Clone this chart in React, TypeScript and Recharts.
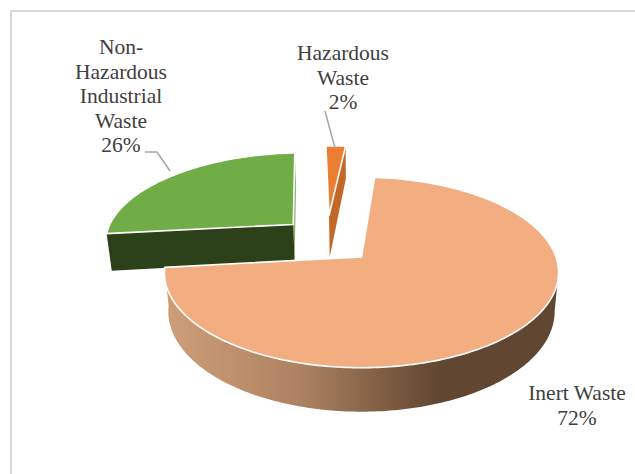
import React from 'react';
import { PieChart, Pie } from 'recharts';

// Waste composition, listed so that the largest slice paints last and sits in front.
const categories = ['Hazardous Waste', 'Non-Hazardous Industrial Waste', 'Inert Waste'];
const shares = [2, 26, 72];
const wrappedNames = [
  ['Hazardous', 'Waste'],
  ['Non-', 'Hazardous', 'Industrial', 'Waste'],
  ['Inert Waste'],
];
const data = categories.map((name, i) => ({ name, value: shares[i], lines: wrappedNames[i] }));

const WIDTH = 635;
const HEIGHT = 474;
const CX = 361.5;
const CY = 257;
const RADIUS = 194.5;

// Perspective of the tilted pie plane.
const TILT = 0.477;
const PERSPECTIVE = 0.162;

const FONT = '"Liberation Serif", "Times New Roman", serif';
const TEXT_COLOR = '#404040';
const LEADER_COLOR = '#a6a6a6';

type Pt = [number, number];

interface SliceStyle {
  top: string;
  wall: string;
  explode: Pt;
}

const sliceStyles: Record<string, SliceStyle> = {
  'Hazardous Waste': { top: '#ED7D31', wall: '#C4682A', explode: [-0.18, -0.485] },
  'Non-Hazardous Industrial Waste': { top: '#70AD47', wall: '#2C4119', explode: [-0.372, -0.372] },
  'Inert Waste': { top: '#F2AE80', wall: 'url(#inertWall)', explode: [0, 0] },
};

const labelPlacement: Record<string, { x: number; y: number; leader?: Pt[] }> = {
  'Hazardous Waste': { x: 343, y: 60, leader: [[325, 111], [335, 148]] },
  'Non-Hazardous Industrial Waste': { x: 121, y: 54, leader: [[145, 152], [157, 152], [170, 171]] },
  'Inert Waste': { x: 577, y: 400 },
};

// Maps a point of the pie plane (unit radius) onto the screen.
const project = (x: number, y: number): Pt => {
  const w = 1 - PERSPECTIVE * y;
  return [CX + (RADIUS * x) / w, CY + (RADIUS * TILT * y) / w];
};

// Drops a top-face point to the bottom face; nearer points drop further.
const extrude = ([sx, sy]: Pt, extra = 0): Pt => [
  sx + (361 - sx) * 0.02,
  sy + 39 + (sy - 272) * 0.052 + extra,
];

const toPath = (pts: Pt[]) =>
  pts.map(([x, y], i) => `${i ? 'L' : 'M'}${x.toFixed(2)} ${y.toFixed(2)}`).join(' ') + ' Z';

// Recharts angles run counter-clockwise from 3 o'clock; the arc is walked clockwise from 12.
const arcPoints = (from: number, to: number, offset: Pt): Pt[] => {
  const steps = Math.max(2, Math.ceil(Math.abs(to - from)));
  const pts: Pt[] = [];
  for (let i = 0; i <= steps; i += 1) {
    const t = ((from + ((to - from) * i) / steps) * Math.PI) / 180;
    pts.push(project(offset[0] + Math.sin(t), offset[1] - Math.cos(t)));
  }
  return pts;
};

const Slice3D = (props: any) => {
  const style = sliceStyles[props.name];
  const a = 90 - Math.max(props.startAngle, props.endAngle);
  const b = 90 - Math.min(props.startAngle, props.endAngle);
  const offset = style.explode;
  const apex = project(offset[0], offset[1]);
  const arc = arcPoints(a, b, offset);
  const topFace = [apex, ...arc];

  let wall: Pt[];
  if (props.name === 'Inert Waste') {
    // Outer rim, from the right silhouette round the front to the left corner.
    const rim = arcPoints(99, b, offset);
    wall = [...rim, ...rim.map((p) => extrude(p)).reverse()];
  } else if (props.name === 'Hazardous Waste') {
    // Cut face on the clockwise side; its inner end reaches further down.
    const corner = arc[arc.length - 1];
    wall = [corner, apex, extrude(apex, 6), extrude(corner)];
  } else {
    // Cut face on the counter-clockwise side, below the top face.
    const corner = arc[0];
    wall = [corner, apex, extrude(apex), extrude(corner)];
  }

  let sideSliver: React.ReactNode = null;
  if (props.name === 'Non-Hazardous Industrial Waste') {
    const corner = arc[arc.length - 1];
    sideSliver = (
      <path d={toPath([corner, apex, extrude(apex), extrude(corner)])} fill="#8DB56F" stroke="none" />
    );
  }

  return (
    <g>
      <defs>
        <linearGradient id="inertWall" gradientUnits="userSpaceOnUse" x1="167" y1="0" x2="555" y2="0">
          <stop offset="0" stopColor="#CF9E79" />
          <stop offset="0.35" stopColor="#AC8160" />
          <stop offset="0.7" stopColor="#614631" />
          <stop offset="1" stopColor="#614631" />
        </linearGradient>
      </defs>
      {sideSliver}
      <path d={toPath(wall)} fill={style.wall} stroke="none" />
      <path d={toPath(topFace)} fill={style.top} stroke="#FFFFFF" strokeWidth={1.6} strokeLinejoin="round" />
    </g>
  );
};

const SliceLabel = (props: any) => {
  const entry = props.payload ?? props;
  const place = labelPlacement[entry.name];
  const lines: string[] = [...entry.lines, `${entry.value}%`];
  return (
    <g>
      {place.leader && (
        <polyline
          points={place.leader.map((p) => p.join(',')).join(' ')}
          fill="none"
          stroke={LEADER_COLOR}
          strokeWidth={1.5}
        />
      )}
      <text x={place.x} y={place.y} textAnchor="middle" fontFamily={FONT} fontSize={21.5} fill={TEXT_COLOR}>
        {lines.map((line, i) => (
          <tspan key={line} x={place.x} dy={i ? 24.6 : 0}>
            {line}
          </tspan>
        ))}
      </text>
    </g>
  );
};

export default function App() {
  return (
    <div style={{ position: 'absolute', left: 0, top: 0, width: WIDTH, height: HEIGHT, overflow: 'hidden', background: '#fff' }}>
      <div
        style={{
          position: 'absolute',
          left: 10,
          top: 10,
          right: 0,
          bottom: 0,
          borderLeft: '2px solid #D9D9D9',
          borderTop: '2px solid #D9D9D9',
        }}
      />
      <div style={{ position: 'absolute', left: 0, top: 0 }}>
        <PieChart width={WIDTH} height={HEIGHT} margin={{ top: 0, right: 0, bottom: 0, left: 0 }}>
          <Pie
            data={data}
            dataKey="value"
            nameKey="name"
            cx={CX}
            cy={CY}
            innerRadius={0}
            outerRadius={RADIUS}
            startAngle={-274.5}
            endAngle={85.5}
            shape={Slice3D}
            label={SliceLabel}
            labelLine={false}
            isAnimationActive={false}
          />
        </PieChart>
      </div>
    </div>
  );
}
